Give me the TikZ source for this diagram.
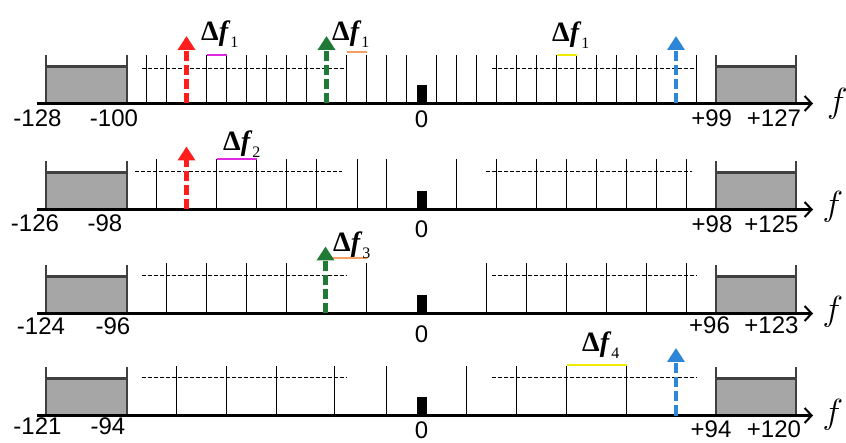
\documentclass[tikz,border=0pt]{standalone}
\usepackage{fontspec}
\setmainfont{Liberation Serif}
\setsansfont{Liberation Sans}
\usetikzlibrary{arrows.meta}
\definecolor{boxgray}{HTML}{A6A6A6}
\definecolor{boxedge}{HTML}{404040}
\definecolor{sigred}{HTML}{FF1E1E}
\definecolor{siggreen}{HTML}{1F7A36}
\definecolor{sigblue}{HTML}{2E86D8}
\definecolor{spmag}{HTML}{E028E0}
\definecolor{sporange}{HTML}{F5A060}
\definecolor{spyellow}{HTML}{F0EC00}
\newcommand{\dfl}[1]{\textbf{\fontsize{28pt}{28pt}\selectfont\char"0394\textit{f}}\raisebox{-7pt}{\fontsize{16pt}{16pt}\selectfont #1}}
\newcommand{\axf}{\scalebox{1.4}{\fontsize{24.88pt}{26pt}\selectfont$f$}}
\begin{document}
\begin{tikzpicture}[x=1pt,y=-1pt,
  axisline/.style={line width=2.6pt,-{Straight Barb[length=7pt,width=15pt,line width=2pt]}},
  boxpost/.style={draw=boxedge,line width=2.2pt},
  tickline/.style={line width=1pt,black},
  refdash/.style={line width=1.1pt,black,dash pattern=on 4pt off 2pt},
  sigarrow/.style={line width=4.4pt,dash pattern=on 10pt off 4pt,-{Triangle[width=17pt,length=14pt]}},
  spacing/.style={line width=2pt},
  lbl/.style={font=\sffamily\fontsize{24pt}{24pt}\selectfont,inner sep=0pt},
  flbl/.style={inner sep=0pt},
  dlbl/.style={anchor=base west,inner sep=0pt}]
\useasboundingbox (0,0) rectangle (846,443);

% ---------- generic row elements ----------
\foreach \A/\n in {103.5/1,209.5/2,313.5/3,415.5/4}{
  \fill[boxgray] (46,\A) rectangle (127,{\A-37});
  \draw[boxpost] (46,{\A-48}) -- (46,\A) -- (127,\A) -- (127,{\A-48});
  \draw[boxpost] (46,{\A-37}) -- (127,{\A-37});
  \fill[boxgray] (716,\A) rectangle (796,{\A-37});
  \draw[boxpost] (716,{\A-48}) -- (716,\A) -- (796,\A) -- (796,{\A-48});
  \draw[boxpost] (716,{\A-37}) -- (796,{\A-37});
  \coordinate (s\n) at (36.7,\A);
  \coordinate (e\n) at (813,\A);
  \draw[axisline] (s\n) -- (e\n);
  \fill (416.5,\A) rectangle (426.5,{\A-18});
}

% ---------- row 1 ----------
\foreach \x in {146.5,166.5,206.5,226.5,246.5,266.5,286.5,306.5,346.5,366.5,386.5,406.5,
                436.5,456.5,476.5,496.5,516.5,536.5,556.5,576.5,596.5,616.5,636.5,656.5,696.5}
  \draw[tickline] (\x,103.5) -- (\x,55);
\draw[refdash] (142,68.5) -- (345,68.5);
\draw[refdash] (491.7,68.5) -- (695,68.5);
\draw[spacing,spmag] (206.5,55) -- (226.5,55);
\draw[spacing,sporange] (346.5,52.5) -- (366.5,52.5);
\draw[spacing,spyellow] (556.5,55) -- (576.5,55);
\coordinate (r1a) at (186.5,103.5); \coordinate (r1b) at (186.5,36);
\coordinate (g1a) at (326.5,103.5); \coordinate (g1b) at (326.5,36);
\coordinate (b1a) at (676,103.5);   \coordinate (b1b) at (676,36);
\draw[sigarrow,sigred] (r1a) -- (r1b);
\draw[sigarrow,siggreen] (g1a) -- (g1b);
\draw[sigarrow,sigblue] (b1a) -- (b1b);
\node[dlbl] (d11) at (201,41) {\dfl{1}};
\node[dlbl] (d12) at (332,41) {\dfl{1}};
\node[dlbl] (d13) at (552,42) {\dfl{1}};
\node[lbl] (l11) at (37.5,118.5) {-128};
\node[lbl] (l12) at (114,118.5) {-100};
\node[lbl] (l13) at (421.5,119) {0};
\node[lbl] (l14) at (711.7,118.5) {+99};
\node[lbl] (l15) at (774,118.5) {+127};
\node[flbl] (f1) at (837.5,104) {\axf};

% ---------- row 2 ----------
\foreach \x in {156.5,216.5,256.5,286.5,316.5,357.5,386.5,456.5,496.5,536.5,566.5,596.5,626.5,656.5,686.5}
  \draw[tickline] (\x,209.5) -- (\x,159.5);
\draw[refdash] (135,171.5) -- (341.7,171.5);
\draw[refdash] (486,171.5) -- (691.7,171.5);
\draw[spacing,spmag] (216.5,159) -- (256.5,159);
\coordinate (r2a) at (186.5,209.5); \coordinate (r2b) at (186.5,146.5);
\draw[sigarrow,sigred] (r2a) -- (r2b);
\node[dlbl] (d2) at (223,151) {\dfl{2}};
\node[lbl] (l21) at (35,223) {-126};
\node[lbl] (l22) at (105,223) {-98};
\node[lbl] (l23) at (421.5,229.5) {0};
\node[lbl] (l24) at (712,224) {+98};
\node[lbl] (l25) at (771.5,224) {+125};
\node[flbl] (f2) at (833,207) {\axf};

% ---------- row 3 ----------
\foreach \x in {166.5,206.5,246.5,286.5,366.5,486.5,526.5,566.5,606.5,646.5,686.5}
  \draw[tickline] (\x,313.5) -- (\x,263);
\draw[refdash] (141.7,275.5) -- (346.7,275.5);
\draw[refdash] (491.7,275.5) -- (696.7,275.5);
\draw[spacing,sporange] (328,258.5) -- (366.5,258.5);
\coordinate (g3a) at (325.5,313.5); \coordinate (g3b) at (325.5,246.5);
\draw[sigarrow,siggreen] (g3a) -- (g3b);
\node[dlbl] (d3) at (333,252) {\dfl{3}};
\node[lbl] (l31) at (41,326.5) {-124};
\node[lbl] (l32) at (113,326.5) {-96};
\node[lbl] (l33) at (421.5,334) {0};
\node[lbl] (l34) at (709.5,325) {+96};
\node[lbl] (l35) at (771.5,325) {+123};
\node[flbl] (f3) at (833,312) {\axf};

% ---------- row 4 ----------
\foreach \x in {176.5,226.5,276.5,334.5,386.5,466.5,516.5,566.5,626.5}
  \draw[tickline] (\x,415.5) -- (\x,366);
\draw[refdash] (141.7,377.5) -- (346.7,377.5);
\draw[refdash] (491.7,377.5) -- (696.7,377.5);
\draw[spacing,spyellow] (566.5,365) -- (626.5,365);
\coordinate (b4a) at (676,415.5); \coordinate (b4b) at (676,348);
\draw[sigarrow,sigblue] (b4a) -- (b4b);
\node[dlbl] (d4) at (582,352) {\dfl{4}};
\node[lbl] (l41) at (37.5,426.5) {-121};
\node[lbl] (l42) at (108,426.5) {-94};
\node[lbl] (l43) at (421.5,430.5) {0};
\node[lbl] (l44) at (711,429) {+94};
\node[lbl] (l45) at (774,429) {+120};
\node[flbl] (f4) at (833,415) {\axf};
\end{tikzpicture}
\end{document}
